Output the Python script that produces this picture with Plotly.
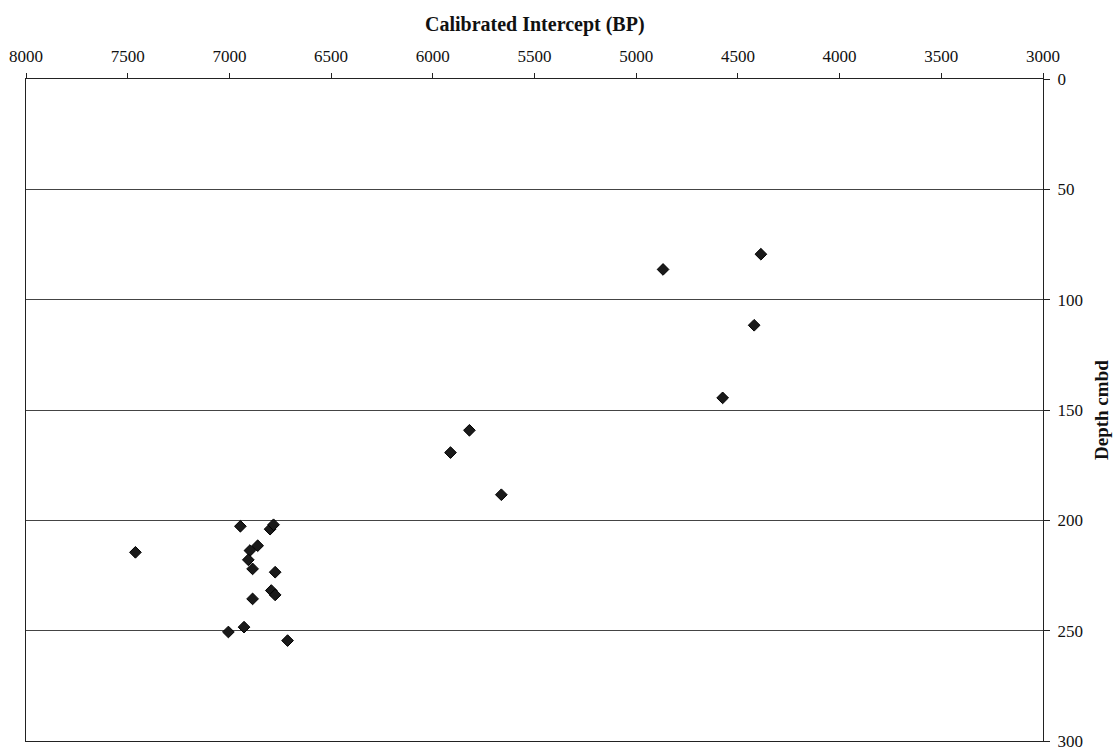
import plotly.graph_objects as go

# Calibrated radiocarbon intercepts (BP) against sample depth (cm below datum)
calibrated_bp = [
    4387, 4868, 4420, 4575,
    5820, 5913, 5663,
    6946, 6800, 6783, 7462, 6861, 6899, 6907, 6886, 6775,
    6794, 6775, 6886, 6928, 7005, 6714,
]
depth_cmbd = [
    79.4, 86.3, 111.6, 144.5,
    159.2, 169.3, 188.4,
    202.7, 204.0, 202.0, 214.5, 211.5, 213.7, 217.9, 222.0, 223.5,
    231.8, 233.8, 235.6, 248.4, 250.6, 254.5,
]

x_ticks = [8000, 7500, 7000, 6500, 6000, 5500, 5000, 4500, 4000, 3500, 3000]
y_ticks = [0, 50, 100, 150, 200, 250, 300]

serif = "Liberation Serif"

fig = go.Figure(
    go.Scatter(
        x=calibrated_bp,
        y=depth_cmbd,
        mode="markers",
        marker=dict(symbol="diamond", size=9, color="#1a1a1a",
                    line=dict(color="#000000", width=1)),
        showlegend=False,
    )
)

fig.update_layout(
    width=1114,
    height=751,
    margin=dict(l=26, r=71, t=79, b=10, autoexpand=False),
    paper_bgcolor="white",
    plot_bgcolor="white",
    font=dict(family=serif, size=17, color="#111111"),
    xaxis=dict(
        side="top",
        range=[8000, 3000],
        tickvals=x_ticks,
        ticks="outside",
        ticklen=5,
        tickcolor="#222222",
        showgrid=False,
        zeroline=False,
        showline=True,
        linecolor="#222222",
        linewidth=1,
        mirror=True,
        automargin=False,
        tickfont=dict(family=serif, size=17, color="#111111"),
        ticklabelstandoff=4,
    ),
    yaxis=dict(
        side="right",
        range=[300, 0],
        tickvals=y_ticks,
        ticks="outside",
        ticklen=6,
        tickcolor="#222222",
        showgrid=True,
        gridcolor="#444444",
        gridwidth=1,
        zeroline=False,
        showline=True,
        linecolor="#222222",
        linewidth=1,
        mirror=True,
        automargin=False,
        tickfont=dict(family=serif, size=17, color="#111111"),
        ticklabelstandoff=4,
    ),
    annotations=[
        dict(text="<b>Calibrated Intercept (BP)</b>", xref="paper", yref="paper",
             x=0.5, y=1, yshift=55, xanchor="center", yanchor="middle",
             showarrow=False, font=dict(family=serif, size=20, color="#111111")),
        dict(text="<b>Depth cmbd</b>", xref="paper", yref="paper",
             x=1, xshift=58, y=0.5, xanchor="center", yanchor="middle",
             textangle=-90, showarrow=False,
             font=dict(family=serif, size=19, color="#111111")),
    ],
)

fig.write_html("out.html")
